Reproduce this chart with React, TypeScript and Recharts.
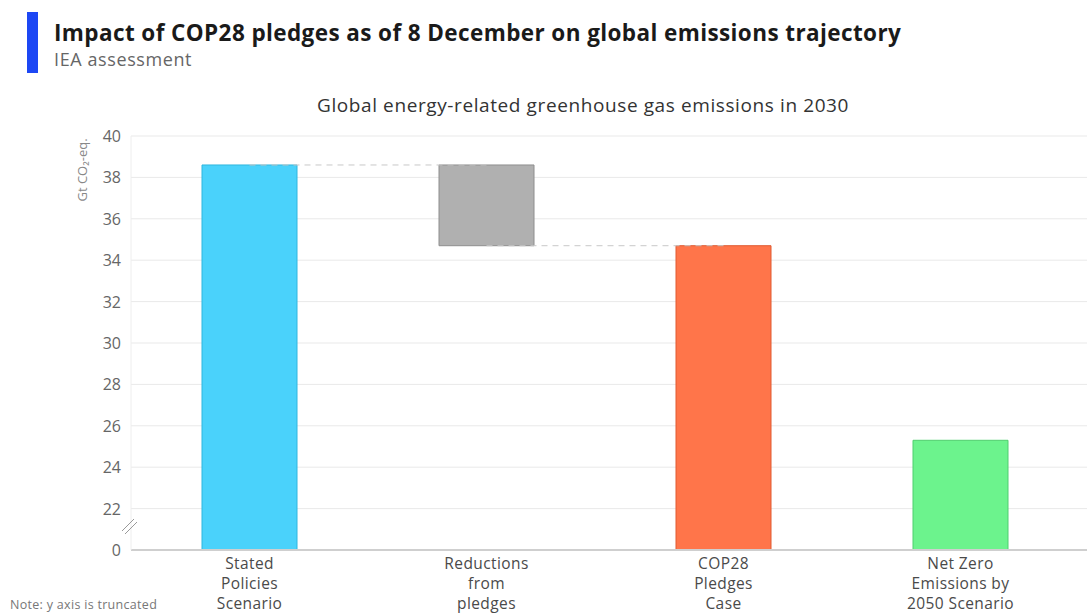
import React from "react";
import { BarChart, Bar, XAxis, YAxis, CartesianGrid, Cell, ReferenceLine } from "recharts";

const categories = ["Stated Policies Scenario", "Reductions from pledges", "COP28 Pledges Case", "Net Zero Emissions by 2050 Scenario"];
const categoryLines = [["Stated", "Policies", "Scenario"], ["Reductions", "from", "pledges"], ["COP28", "Pledges", "Case"], ["Net Zero", "Emissions by", "2050 Scenario"]];
const axisFloor = 20;
const lowValues = [20, 34.7, 20, 20];
const highValues = [38.6, 38.6, 34.7, 25.3];
const barColors = ["#4AD2FB", "#B0B0B0", "#FF754A", "#6CF38D"];
const barStrokes = ["#2fb6de", "#8e8e8e", "#e05a30", "#4fcf6e"];
const yTicks = [20, 22, 24, 26, 28, 30, 32, 34, 36, 38, 40];
const yTickLabels = ["0", "22", "24", "26", "28", "30", "32", "34", "36", "38", "40"];

const data = categories.map((c, i) => ({ name: c, range: [lowValues[i], highValues[i]] }));

const FONT = "'Open Sans', sans-serif";

const XTick = (props: any) => {
  const { x, y, payload } = props;
  const idx = categories.indexOf(payload.value);
  const lines = categoryLines[idx] || [payload.value];
  return (
    <g>
      {lines.map((l, i) => (
        <text key={i} x={x} y={y + 11 + i * 20} textAnchor="middle" fontSize={15.5} fill="#4a4a4a" fontFamily={FONT} letterSpacing={0.4}>
          {l}
        </text>
      ))}
    </g>
  );
};

const YTick = (props: any) => {
  const { x, y, payload } = props;
  const idx = yTicks.indexOf(payload.value);
  const label = yTickLabels[idx];
  const tx = x + 5;
  return (
    <g>
      <text x={tx} y={y + 6} textAnchor="end" fontSize={16} fill="#666" fontFamily={FONT}>
        {label}
      </text>
      {payload.value === axisFloor ? (
        <g stroke="#999" strokeWidth={1}>
          <line x1={tx + 1} y1={y - 19} x2={tx + 13} y2={y - 31} />
          <line x1={tx + 4} y1={y - 16} x2={tx + 16} y2={y - 28} />
        </g>
      ) : null}
    </g>
  );
};

export default function App() {
  return (
    <div style={{ position: "fixed", left: 0, top: 0, width: 1087, height: 613, background: "#fff", overflow: "hidden", fontFamily: FONT }}>
      <div style={{ position: "absolute", left: 27, top: 12, width: 11, height: 61, background: "#1D47F4" }} />
      <div style={{ position: "absolute", left: 54, top: 17, fontSize: 22.5, fontWeight: 700, color: "#1a1a1a", whiteSpace: "nowrap", letterSpacing: 0.4 }}>
        Impact of COP28 pledges as of 8 December on global emissions trajectory
      </div>
      <div style={{ position: "absolute", left: 54, top: 47, fontSize: 18, color: "#666", whiteSpace: "nowrap", letterSpacing: 0.6 }}>IEA assessment</div>
      <div style={{ position: "absolute", left: 0, width: 1166, top: 92, textAlign: "center", fontSize: 19, color: "#333", whiteSpace: "nowrap", letterSpacing: 0.6 }}>
        Global energy-related greenhouse gas emissions in 2030
      </div>
      <div style={{ position: "absolute", left: 82, top: 170, fontSize: 13, color: "#888", whiteSpace: "nowrap", transform: "translate(-50%, -50%) rotate(-90deg)" }}>
        Gt CO₂-eq.
      </div>
      <div style={{ position: "absolute", left: 10, top: 596, fontSize: 12.5, color: "#777", whiteSpace: "nowrap", letterSpacing: 0.3 }}>Note: y axis is truncated</div>
      <div style={{ position: "absolute", left: 0, top: 0 }}>
        <BarChart width={1087} height={613} data={data} margin={{ top: 136, right: 0, left: 0, bottom: 0 }} barSize={95}>
          <CartesianGrid vertical={false} stroke="#e9e9e9" />
          <XAxis dataKey="name" height={63} tickLine={false} axisLine={{ stroke: "#cfcfcf", strokeWidth: 2 }} tick={<XTick />} interval={0} padding={{ left: 0, right: 8 }} />
          <YAxis width={131} domain={[20, 40]} ticks={yTicks} tickLine={false} axisLine={{ stroke: "#eeeeee" }} tick={<YTick />} tickMargin={9} allowDataOverflow />
          <ReferenceLine segment={[{ x: categories[0], y: highValues[0] }, { x: categories[1], y: highValues[1] }]} stroke="#c8c8c8" strokeDasharray="6 5" />
          <ReferenceLine segment={[{ x: categories[1], y: lowValues[1] }, { x: categories[2], y: highValues[2] }]} stroke="#c8c8c8" strokeDasharray="6 5" />
          <Bar dataKey="range" isAnimationActive={false}>
            {data.map((d, i) => (
              <Cell key={i} fill={barColors[i]} stroke={barStrokes[i]} strokeWidth={1} />
            ))}
          </Bar>
        </BarChart>
      </div>
    </div>
  );
}
